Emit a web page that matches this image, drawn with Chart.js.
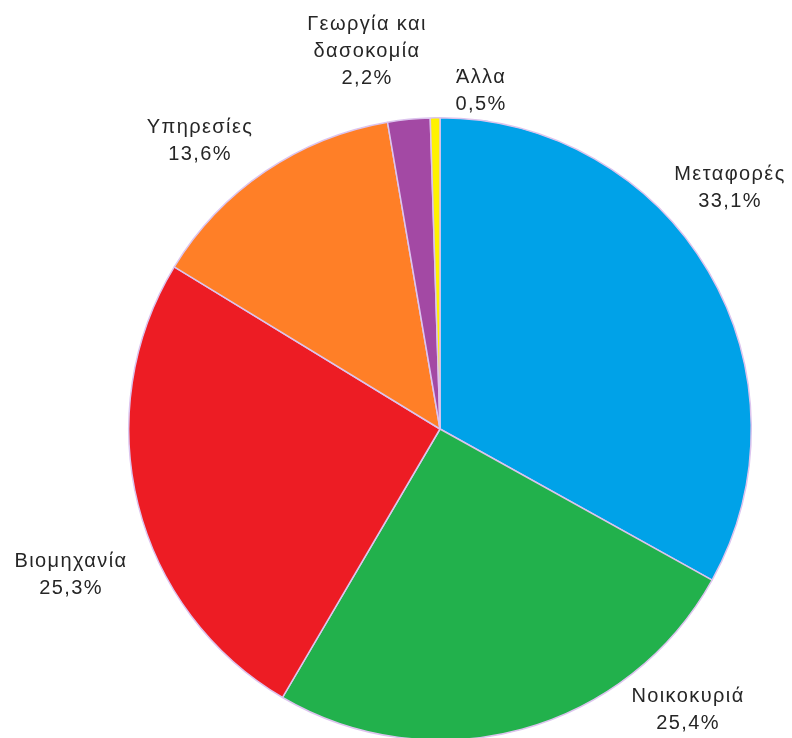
<!DOCTYPE html>
<html lang="el">
<head>
<meta charset="utf-8">
<script src="https://cdn.jsdelivr.net/npm/chart.js@4/dist/chart.umd.min.js"></script>
<style>
  html, body { margin: 0; padding: 0; background: #ffffff; overflow: hidden; }
  #wrap { width: 792px; height: 760px; }
</style>
</head>
<body>
<div id="wrap"><canvas id="pie" width="792" height="760"></canvas></div>
<script>
// Sectors, clockwise from 12 o'clock
const categories = ['Μεταφορές', 'Νοικοκυριά', 'Βιομηχανία', 'Υπηρεσίες', ['Γεωργία και', 'δασοκομία'], 'Άλλα'];
const shares = [33.1, 25.4, 25.3, 13.6, 2.2, 0.5];
const sliceColors = ['#00A2E8', '#22B14C', '#ED1C24', '#FF7F27', '#A349A4', '#FFF200'];

// Where each label block sits, relative to the pie centre (x = text centre, y = first baseline)
const labelPlacement = [[290, -249], [248, 273], [-369, 138], [-240, -296], [-73, -399], [41, -346]];

const fmt = v => v.toFixed(1).replace('.', ',') + '%';

const outsideLabels = {
  id: 'outsideLabels',
  afterDatasetsDraw(chart) {
    const ctx = chart.ctx;
    const meta = chart.getDatasetMeta(0);
    const ds = chart.data.datasets[0];
    ctx.save();
    ctx.font = '20px "Liberation Sans", Arial, sans-serif';
    ctx.letterSpacing = '1.4px';
    ctx.fillStyle = '#262626';
    ctx.textAlign = 'center';
    ctx.textBaseline = 'alphabetic';
    const lh = 27;
    meta.data.forEach((arc, i) => {
      const name = chart.data.labels[i];
      const lines = (Array.isArray(name) ? name.slice() : [name]);
      lines.push(fmt(ds.data[i]));
      const [dx, dy] = labelPlacement[i];
      const x = arc.x + dx;
      const y = arc.y + dy;
      lines.forEach((t, k) => ctx.fillText(t, x, y + k * lh));
    });
    ctx.restore();
  }
};

new Chart(document.getElementById('pie'), {
  type: 'pie',
  data: {
    labels: categories,
    datasets: [{
      data: shares,
      backgroundColor: sliceColors,
      borderColor: '#dcc4ee',
      borderWidth: 1.5
    }]
  },
  options: {
    responsive: false,
    animation: false,
    devicePixelRatio: 1,
    layout: { padding: { left: 128, right: 40, top: 117, bottom: 19 } },
    plugins: {
      legend: { display: false },
      tooltip: { enabled: false }
    }
  },
  plugins: [outsideLabels]
});
</script>
</body>
</html>
